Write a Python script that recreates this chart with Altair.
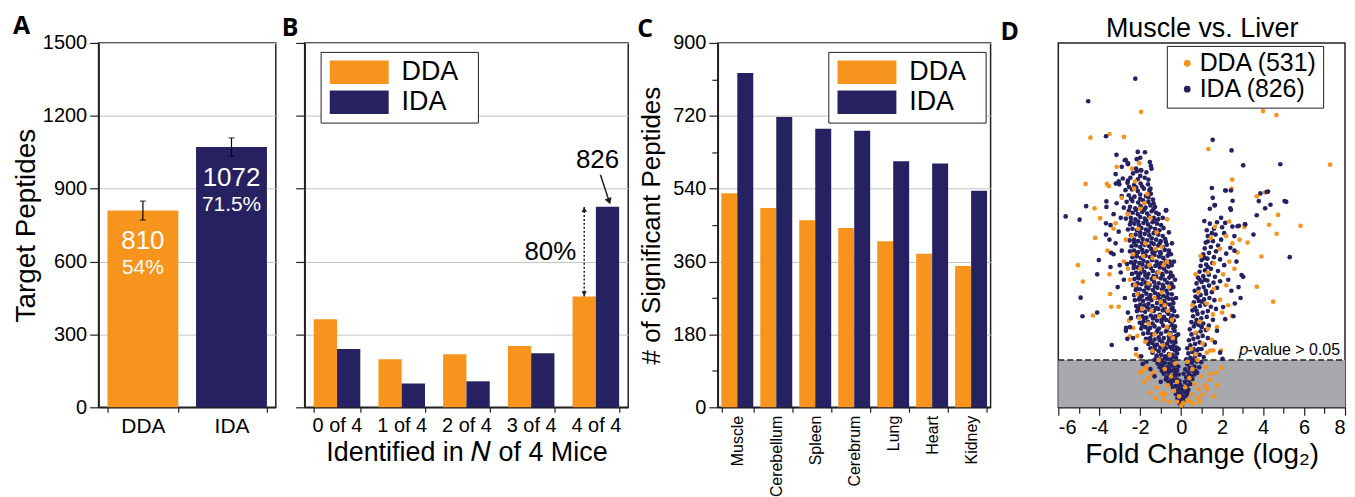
import altair as alt
import pandas as pd

ORANGE = "#F7941D"
NAVY = "#262262"
INK = "#231f20"
GRID = "#c4c4c4"
FONT = "Liberation Sans"
LETTER_FONT = "Open Sans"

methods = ["DDA", "IDA"]

# ---- Panel A ----
a_counts = [810, 1072]
a_err = [39, 37]
a_pct = ["54%", "71.5%"]

# ---- Panel B ----
b_cats = ["0 of 4", "1 of 4", "2 of 4", "3 of 4", "4 of 4"]
b_dda = [363, 198, 218, 252, 456]
b_ida = [240, 98, 107, 223, 826]
b_gain = "80%"

# ---- Panel C ----
tissues = ["Muscle", "Cerebellum", "Spleen", "Cerebrum", "Lung", "Heart", "Kidney"]
c_dda = [529, 492, 462, 443, 410, 379, 349]
c_ida = [826, 717, 688, 683, 608, 602, 535]

# ---- Panel D ----
d_sig = {"DDA": 531, "IDA": 826}
p_cut = 1.301
x_dom = [-6, 8]
y_dom = [0, 10]

ida_core = [
 (-0.02,0.04),(0.04,0.1),(-0.1,0.12),(-0.05,0.2),(0.06,0.22),(-0.18,0.25),(-0.12,0.32),(0.0,0.3),(-0.25,0.36),(-0.06,0.38),
 (-0.32,0.44),(-0.2,0.46),(-0.1,0.5),(0.02,0.48),(-0.4,0.55),(-0.28,0.58),(-0.16,0.6),(-0.05,0.62),(-0.5,0.64),
 (-0.62,0.7),(-0.45,0.72),(-0.33,0.74),(-0.2,0.76),(-0.08,0.72),(-0.72,0.82),(-0.55,0.85),(-0.4,0.86),(-0.27,0.88),(-0.12,0.9),(-0.85,0.92),(-0.64,0.95),
 (-0.95,1.0),(-0.78,1.02),(-0.5,1.0),(-0.35,1.04),(-0.2,1.02),(-1.05,1.1),(-0.9,1.12),(-0.68,1.1),(-0.45,1.14),(-0.28,1.16),(-0.14,1.12),(-1.15,1.2),(-0.8,1.22),(-0.58,1.2),(-0.38,1.25),
 (-1.3,1.3),(-1.05,1.32),(-0.92,1.28),(-0.7,1.34),(-0.5,1.32),(-0.25,1.36),(-1.2,1.42),(-0.98,1.44),(-0.78,1.4),(-0.6,1.46),(-0.42,1.44),(-0.2,1.48),(-1.4,1.5),(-1.1,1.54),(-0.85,1.55),(-0.3,1.56),
 (-1.5,1.62),(-1.28,1.6),(-1.02,1.64),(-0.75,1.62),(-0.55,1.66),(-0.38,1.68),(-0.22,1.64),(-1.6,1.74),(-1.4,1.76),(-1.18,1.72),(-0.92,1.78),(-0.68,1.75),(-0.46,1.8),(-0.28,1.78),
 (-1.72,1.88),(-1.52,1.9),(-1.3,1.86),(-1.1,1.92),(-0.85,1.9),(-0.6,1.94),(-0.4,1.92),(-0.25,1.96),(-1.85,2.02),(-1.62,2.04),(-1.42,2.0),(-1.2,2.06),(-0.98,2.02),(-0.75,2.08),(-0.52,2.04),(-0.32,2.1),
 (-1.95,2.16),(-1.74,2.2),(-1.52,2.18),(-1.3,2.22),(-1.08,2.16),(-0.88,2.24),(-0.65,2.2),(-0.45,2.26),(-0.3,2.22),(-2.02,2.32),(-1.84,2.36),(-1.62,2.34),(-1.4,2.3),(-1.18,2.38),(-0.96,2.34),(-0.74,2.4),(-0.55,2.36),(-0.36,2.38),
 (-2.1,2.48),(-1.9,2.5),(-1.7,2.46),(-1.48,2.52),(-1.26,2.5),(-1.05,2.54),(-0.84,2.48),(-0.62,2.56),(-0.42,2.52),(-2.16,2.64),(-1.95,2.66),(-1.76,2.62),(-1.55,2.68),(-1.34,2.64),(-1.12,2.7),(-0.9,2.66),(-0.7,2.62),(-0.5,2.68),(-0.34,2.64),
 (-2.2,2.78),(-2.0,2.82),(-1.8,2.8),(-1.6,2.84),(-1.4,2.78),(-1.18,2.86),(-0.96,2.8),(-0.76,2.84),(-0.56,2.82),(-0.38,2.86),(-2.26,2.94),(-2.06,2.96),(-1.86,2.92),(-1.66,2.98),(-1.45,2.94),(-1.24,3.0),(-1.02,2.96),(-0.82,2.92),(-0.6,2.98),(-0.42,2.96),
 (-2.3,3.08),(-2.1,3.1),(-1.9,3.06),(-1.7,3.12),(-1.5,3.08),(-1.28,3.14),(-1.08,3.1),(-0.88,3.06),(-0.66,3.12),(-0.46,3.1),(-2.22,3.22),(-2.02,3.24),(-1.82,3.2),(-1.6,3.26),(-1.38,3.22),(-1.16,3.28),(-0.94,3.24),(-0.72,3.2),(-0.52,3.26),(-0.38,3.3),
 (-2.35,3.36),(-2.14,3.4),(-1.94,3.38),(-1.74,3.42),(-1.54,3.36),(-1.32,3.44),(-1.1,3.4),(-0.9,3.36),(-0.68,3.42),(-0.48,3.4),(-2.28,3.52),(-2.08,3.54),(-1.88,3.5),(-1.66,3.56),(-1.44,3.52),(-1.22,3.58),(-1.0,3.54),(-0.8,3.5),(-0.58,3.56),(-0.42,3.6),
 (-2.4,3.66),(-2.2,3.7),(-2.0,3.68),(-1.8,3.72),(-1.6,3.66),(-1.38,3.74),(-1.16,3.7),(-0.94,3.66),(-0.72,3.72),(-0.52,3.7),(-2.32,3.82),(-2.12,3.84),(-1.92,3.8),(-1.7,3.86),(-1.48,3.82),(-1.26,3.88),(-1.04,3.84),(-0.84,3.8),(-0.62,3.86),(-0.46,3.9),
 (-2.45,3.98),(-2.24,4.0),(-2.04,3.96),(-1.84,4.02),(-1.64,3.98),(-1.42,4.04),(-1.2,4.0),(-0.98,3.96),(-0.76,4.02),(-0.56,4.0),(-2.38,4.12),(-2.16,4.14),(-1.96,4.1),(-1.74,4.16),(-1.52,4.12),(-1.3,4.18),(-1.08,4.14),(-0.88,4.1),(-0.66,4.16),(-0.5,4.2),
 (-2.5,4.28),(-2.3,4.3),(-2.1,4.26),(-1.9,4.32),(-1.68,4.28),(-1.46,4.34),(-1.24,4.3),(-1.02,4.26),(-0.8,4.32),(-0.6,4.3),(-2.42,4.42),(-2.2,4.44),(-2.0,4.4),(-1.78,4.46),(-1.56,4.42),(-1.34,4.48),(-1.12,4.44),(-0.9,4.4),(-0.7,4.46),
 (-2.52,4.58),(-2.3,4.6),(-2.1,4.56),(-1.88,4.62),(-1.66,4.58),(-1.44,4.64),(-1.22,4.6),(-1.0,4.56),(-0.78,4.62),(-2.44,4.72),(-2.22,4.74),(-2.0,4.7),(-1.78,4.76),(-1.56,4.72),(-1.34,4.78),(-1.12,4.74),(-0.9,4.7),
 (-2.6,4.88),(-2.38,4.9),(-2.16,4.86),(-1.94,4.92),(-1.72,4.88),(-1.5,4.94),(-1.28,4.9),(-1.06,4.86),(-0.86,4.92),(-2.5,5.02),(-2.28,5.04),(-2.06,5.0),(-1.84,5.06),(-1.62,5.02),(-1.4,5.08),(-1.18,5.04),(-0.98,5.0),
 (-2.7,5.18),(-2.46,5.2),(-2.24,5.16),(-2.0,5.22),(-1.78,5.18),(-1.56,5.24),(-1.34,5.2),(-1.12,5.16),(-2.6,5.32),(-2.36,5.34),(-2.12,5.3),(-1.9,5.36),(-1.66,5.32),(-1.44,5.38),(-1.22,5.34),
 (-2.8,5.48),(-2.5,5.5),(-2.24,5.46),(-1.98,5.52),(-1.74,5.48),(-1.5,5.54),(-1.28,5.5),(-2.66,5.64),(-2.38,5.66),(-2.1,5.62),(-1.86,5.68),(-1.6,5.64),(-1.38,5.7),
 (-2.9,5.8),(-2.56,5.82),(-2.28,5.78),(-2.0,5.84),(-1.72,5.8),(-1.48,5.86),(-2.72,5.96),(-2.4,5.98),(-2.12,5.94),(-1.82,6.0),(-1.55,5.96),
 (-3.02,6.12),(-2.62,6.16),(-2.3,6.1),(-1.98,6.14),(-1.62,6.12),(-2.85,6.28),(-2.48,6.3),(-2.12,6.26),(-1.78,6.3),(-2.6,6.22),
 (-2.0,4.8),(-1.6,4.84),(-1.2,4.82),(-2.3,4.52),(-1.9,4.5),(-1.45,4.52),(-1.05,4.5),(-0.75,4.54),(-2.2,4.2),(-1.85,4.22),(-1.4,4.24),(-1.0,4.22),(-0.6,4.24),
 (-2.3,3.9),(-1.9,3.92),(-1.55,3.9),(-1.15,3.92),(-0.75,3.9),(-2.1,3.6),(-1.75,3.62),(-1.35,3.6),(-0.9,3.62),(-0.5,3.62),(-2.2,3.3),(-1.7,3.3),(-1.28,3.32),
 (-0.85,3.3),(-0.45,3.34),(-2.0,3.02),(-1.55,3.02),(-1.13,3.04),(-0.7,3.02),(-2.1,2.72),(-1.65,2.74),(-1.22,2.72),(-0.8,2.74),(-0.42,2.74),(-1.8,2.44),
 (-1.38,2.44),(-0.95,2.42),(-0.5,2.44),(-1.9,2.26),(-1.6,2.12),(-1.15,2.12),(-0.7,2.12),(-0.38,2.16),(-1.5,1.82),(-1.05,1.84),(-0.6,1.84),(-0.3,1.86),
 (-1.3,1.68),(-0.85,1.68),(-0.45,1.6),(-1.2,1.36),(-0.8,1.36),(-0.35,1.38),(-0.95,1.18),(-0.6,1.06),(-0.3,0.96),(-0.75,0.76),(-0.5,0.8),(-2.45,5.1),
 (-2.1,5.1),(-1.7,5.12),(-1.3,5.12),(-2.55,5.4),(-2.2,5.42),(-1.8,5.42),(-1.35,5.44),(-2.45,5.72),(-2.0,5.72),(-1.6,5.76),(-2.55,6.05),(-2.2,6.04),
 (-1.9,6.06),(-2.0,6.35),(-2.35,6.42),(-1.7,6.45),
 (0.05,0.08),(0.12,0.18),(0.2,0.26),(0.08,0.3),(0.28,0.36),(0.15,0.42),(0.35,0.48),(0.22,0.5),
 (0.1,0.56),(0.3,0.6),(0.45,0.64),(0.18,0.7),(0.38,0.74),(0.55,0.78),(0.25,0.82),(0.48,0.86),(0.65,0.9),(0.12,0.92),(0.35,0.96),(0.58,1.0),(0.78,0.95),
 (0.2,1.04),(0.42,1.08),(0.65,1.12),(0.88,1.1),(0.3,1.18),(0.52,1.22),(0.75,1.26),(0.98,1.24),(0.25,1.32),(0.45,1.36),(0.68,1.4),(0.9,1.44),(1.1,1.38),(0.35,1.48),
 (0.55,1.52),(0.78,1.56),(1.0,1.6),(0.3,1.62),(0.45,1.7),(0.68,1.74),(0.9,1.78),(1.15,1.72),(0.38,1.84),(0.6,1.88),(0.82,1.92),(1.05,1.96),(1.3,1.9),(0.5,2.0),
 (0.72,2.04),(0.95,2.08),(1.2,2.12),(0.42,2.14),(0.62,2.22),(0.85,2.26),(1.08,2.3),(1.35,2.24),(0.5,2.34),(0.75,2.4),(0.98,2.44),(1.25,2.48),(1.55,2.4),(0.58,2.5),
 (0.8,2.56),(1.05,2.6),(1.3,2.64),(0.55,2.66),(0.68,2.74),(0.92,2.78),(1.18,2.82),(1.45,2.76),(1.7,2.7),(0.62,2.88),(0.86,2.92),(1.12,2.96),(1.38,3.0),(1.62,2.94),
 (0.7,3.04),(0.95,3.08),(1.22,3.12),(1.5,3.16),(0.66,3.2),(0.85,3.26),(1.1,3.3),(1.36,3.34),(1.75,3.28),(0.75,3.4),(1.0,3.44),(1.28,3.48),(1.58,3.42),(1.9,3.46),
 (0.82,3.56),(1.08,3.6),(1.35,3.64),(1.65,3.58),(0.9,3.72),(1.16,3.76),(1.45,3.8),(1.8,3.74),(0.95,3.88),(1.22,3.92),(1.52,3.96),(2.1,3.9),
 (1.0,4.04),(1.28,4.08),(1.6,4.12),(1.9,4.06),(1.08,4.2),(1.36,4.24),(1.7,4.28),(2.2,4.22),(1.15,4.36),(1.45,4.4),(1.8,4.44),(2.4,4.38),
 (1.2,4.52),(1.55,4.56),(1.95,4.6),(1.3,4.7),(1.68,4.74),(2.1,4.78),(2.6,4.7),(1.25,4.86),(1.6,4.9),(2.0,4.94),(2.5,4.96),(1.4,5.04),(1.75,5.08),(2.15,5.06),(2.82,4.98),(3.11,5.02),(1.13,5.11),
 (0.3,0.4),(0.4,0.9),(0.7,1.0),(0.55,1.3),(0.85,1.6),(0.6,1.6),(0.7,2.3),(1.0,2.2),(0.75,2.65),(1.0,2.9),(0.8,3.0),(1.2,3.2),(0.9,3.5),(1.15,3.5),(1.3,3.85),
 (1.15,4.1),(1.3,4.55),(1.5,4.78),
]

ida_outer = [
 (-3.2,4.5),(-3.05,4.82),(-2.95,5.2),(-3.15,5.6),(-3.3,5.3),(-2.9,4.3),(-3.0,3.9),(-2.8,3.5),(-2.75,3.0),(-2.6,2.6),(-2.5,2.2),(-2.35,1.9),(-2.2,1.6),(-1.95,1.4),(-1.7,1.25),(-1.5,1.05),(-1.3,0.85),(-1.0,0.7),
 (-2.7,2.1),(-2.45,2.45),(-3.1,3.3),(-2.95,3.7),(-3.3,4.2),(-3.5,4.6),(-3.45,5.0),(-3.2,6.4),(-2.9,6.6),(-2.75,6.78),(-2.6,6.7),(-2.2,6.55),(-1.95,6.5),(-1.5,6.0),(-1.35,5.6),(-1.1,5.3),(-0.9,5.2),(-0.75,5.4),
 (-0.6,4.8),(-0.45,4.5),(-0.35,4.0),(-0.3,3.5),(-0.25,3.0),(-0.2,2.5),(-0.15,2.0),(-0.12,1.6),(-1.6,6.25),(-1.45,6.55),(-2.0,6.85),
 (-2.24,9.02),(-4.54,8.40),(-3.67,7.44),(-3.16,6.93),(-2.12,7.01),(-1.77,7.00),(-2.71,6.79),(-2.60,6.67),(-2.17,6.81),(-1.96,6.51),(-1.53,6.73),(-1.48,6.63),
 (-4.64,5.52),(-3.65,5.65),(-3.65,5.50),(-5.64,5.24),(-4.96,5.15),(-3.67,5.05),(-3.67,4.74),(-0.73,5.41),(-4.91,3.01),(-4.82,2.50),(-4.10,2.60),(-4.10,3.65),
 (-4.02,4.04),(-3.42,4.24),(-3.45,3.85),(-3.39,1.71),(-2.69,2.18),(-2.63,1.88),(-2.64,3.93),(-1.88,1.19),(-3.19,6.14),(-3.05,6.2),(-2.16,6.48),
 (1.50,6.02),(2.18,5.95),(4.18,5.91),(1.54,5.75),(1.65,5.55),(2.40,5.46),(3.69,5.27),(5.05,5.66),(3.53,4.74),(3.13,5.02),(2.75,4.97),(1.54,7.34),(2.46,7.05),
 (3.03,6.64),(4.84,6.67),(2.15,5.95),(2.43,5.95),(2.51,5.67),(1.63,5.54),(2.43,5.42),(3.87,5.87),(4.24,5.92),(3.79,5.66),(4.36,5.56),(4.10,5.46),(5.13,5.64),
 (5.30,4.12),(2.95,3.63),(3.03,3.58),(2.62,2.85),(2.15,2.42),(2.02,1.33),(1.65,1.78),(2.45,3.2),(2.3,3.5),(2.6,4.3),(2.7,4.0),(1.95,5.2),(1.4,5.45),
 (2.8,3.3),(2.55,2.5),(2.9,3.0),(1.9,1.5),(1.75,2.1),(2.05,2.75),
]

dda_pts = [
 (-1.96,8.11),(-4.43,7.40),(-3.50,7.50),(-2.79,7.42),(-3.15,6.60),(-2.05,6.70),(-4.67,6.13),(-3.53,6.07),(-4.23,5.46),(-3.96,5.19),(-4.20,4.65),(-0.69,5.16),
 (-5.04,3.90),(-4.80,3.45),(-4.31,2.52),(-3.47,3.11),(-3.42,2.76),(-3.05,2.76),(-3.50,3.65),(-2.34,2.18),(-2.5,1.95),(-2.55,2.38),(-2.14,1.96),(-0.94,0.36),
 (-0.77,0.35),(-3.63,6.13),(-2.4,6.55),(-2.25,6.2),(-3.3,4.9),(-3.6,4.3),(-2.9,5.75),(-3.2,5.05),
 (-2.3,6.0),(-1.8,5.6),(-2.6,5.3),(-1.5,5.2),(-2.1,4.9),(-1.2,4.8),(-2.7,4.6),(-1.75,4.5),(-0.95,4.4),(-2.35,4.2),(-1.4,4.1),(-0.7,4.0),(-2.0,3.8),(-1.1,3.7),
 (-2.5,3.5),(-1.6,3.4),(-0.6,3.3),(-2.15,3.1),(-1.3,3.0),(-0.8,2.8),(-1.9,2.7),(-1.05,2.5),(-0.45,2.4),(-1.6,2.3),(-0.7,2.2),(-1.3,2.0),(-0.4,1.9),(-1.75,1.8),
 (-0.9,1.7),(-1.4,1.55),(-0.55,1.45),(-1.1,1.3),(-0.3,1.2),(-0.8,1.05),(-1.35,0.95),(-0.5,0.85),(-0.2,0.7),(-0.65,0.6),(-0.35,0.45),(-0.1,0.3),(-0.2,0.15),(0.0,0.05),
 (-1.6,0.8),(-1.2,0.55),(-0.9,0.4),(-1.7,1.1),(-2.2,1.45),(-1.9,1.0),(-2.4,4.7),(-1.85,4.15),(-1.3,3.55),(-0.95,3.15),(-2.05,2.45),(-1.45,2.65),(-0.55,2.0),
 (-2.8,4.0),(-2.6,3.8),(-1.65,5.85),(-2.0,5.45),(-1.25,4.35),(-0.85,3.9),(-2.25,3.35),(-1.55,3.9),(-1.0,2.9),(-0.65,2.65),(-2.05,1.39),(-1.72,1.06),(-1.4,0.9),
 (4.00,8.13),(4.65,8.02),(1.33,7.09),(7.27,6.66),(2.49,6.25),(2.46,6.0),(3.69,5.79),(4.73,5.28),(4.29,5.01),(4.66,4.76),(3.24,4.52),(3.69,3.31),(4.49,2.90),
 (5.83,4.98),(3.92,4.14),(4.1,5.9),(3.09,4.95),(1.94,1.56),(1.99,1.08),(1.41,0.92),(1.41,0.76),(1.57,1.56),(1.42,1.56),(2.48,2.51),
 (0.1,0.12),(0.3,0.2),(0.5,0.35),(0.2,0.55),(0.65,0.65),(0.85,0.5),(0.4,0.8),(1.0,0.85),(0.55,1.05),(1.2,1.1),(0.3,1.25),(0.8,1.3),(1.25,1.5),(0.5,1.6),
 (1.05,1.75),(1.5,1.85),(0.7,2.05),(1.3,2.15),(1.75,2.2),(0.9,2.35),(1.55,2.55),(2.0,2.6),(0.55,2.8),(1.25,2.85),(1.9,2.95),(0.85,3.15),(1.6,3.25),(2.2,3.35),
 (0.7,3.65),(1.3,3.7),(2.05,3.65),(1.6,3.95),(2.35,4.0),(0.95,4.15),(1.9,4.35),(2.5,4.5),(1.45,4.65),(2.2,4.7),(2.85,4.6),(1.65,4.95),(2.35,5.1),(0.85,0.25),
 (0.45,0.15),(1.15,0.6),(0.7,1.45),(2.3,2.8),(2.6,3.8),(2.75,4.25),
 (-1.5,0.4),(-1.25,0.25),(-0.6,0.15),(0.6,0.1),(1.05,0.35),(1.3,0.5),(1.6,0.3),(-1.8,0.7),(1.7,0.95),(1.75,0.6),(-2.0,0.95),(-0.85,0.2),(0.9,0.15),
]

H = 366

# ---------------- helpers ----------------
def major(step):
    return f"datum.value % {step} == 0"

def y_axis(values, step, title=None, labels=True, pad=2, tfs=26):
    return alt.Axis(
        values=values, format="d",
        labelExpr=f"{major(step)} ? datum.label : ''",
        tickSize={"condition": {"test": major(step), "value": 9}, "value": 6},
        grid=True,
        gridOpacity={"condition": {"test": major(step), "value": 1}, "value": 0},
        labels=labels, title=title, titlePadding=pad, labelPadding=3, titleFontSize=tfs,
    )

def letter(t, dx, dy=0):
    return alt.Title(t, anchor="start", frame="group", dx=dx, dy=dy, offset=0,
                     font=LETTER_FONT, fontSize=25, fontWeight="bold", color="black")

color_scale = alt.Scale(domain=methods, range=[ORANGE, NAVY])

def bar_legend(x, y):
    # filled swatch plus an invisible move-to point that widens the legend box
    return alt.Legend(orient="none", legendX=x, legendY=y, title=None, direction="vertical",
                      symbolType="M-2.5,-1H2.5V1H-2.5ZM9.4,0", symbolSize=560, symbolStrokeWidth=0,
                      symbolOffset=18.3, labelOffset=29, labelFontSize=27, labelFont=FONT,
                      labelColor="black", rowPadding=2, padding=7, strokeColor=INK,
                      fillColor="white")

def spacer(w):
    return alt.Chart(pd.DataFrame({"v": [0]})).mark_point(opacity=0).encode(
        x=alt.X("v:Q", axis=None), y=alt.Y("v:Q", axis=None)
    ).properties(width=w, height=H, view=alt.ViewBackground(stroke=None))

# ---------------- Panel A ----------------
dfA = pd.DataFrame({
    "method": methods,
    "count": a_counts,
    "lo": [c - e for c, e in zip(a_counts, a_err)],
    "hi": [c + e for c, e in zip(a_counts, a_err)],
    "num": [str(c) for c in a_counts],
    "pct": a_pct,
})
xA = alt.X("method:N", sort=methods, scale=alt.Scale(paddingInner=0.2, paddingOuter=0.1),
           axis=alt.Axis(title=None, labelAngle=0, tickBand="extent", labelFontSize=21, labelPadding=3))
yA_scale = alt.Scale(domain=[0, 1500], nice=False)
barsA = alt.Chart(dfA).mark_bar().encode(
    x=xA,
    y=alt.Y("count:Q", scale=yA_scale,
            axis=y_axis(list(range(0, 1501, 150)), 300, title="Target Peptides", pad=2, tfs=28)),
    color=alt.Color("method:N", scale=color_scale, legend=None),
)
errA = alt.Chart(dfA).mark_rule(color="black", strokeWidth=1.2).encode(
    x=alt.X("method:N", sort=methods), y="lo:Q", y2="hi:Q")
capA = alt.Chart(dfA).mark_tick(color="black", thickness=1.2, size=6).encode(
    x=alt.X("method:N", sort=methods), y="lo:Q")
capA2 = alt.Chart(dfA).mark_tick(color="black", thickness=1.2, size=6).encode(
    x=alt.X("method:N", sort=methods), y="hi:Q")
numA = alt.Chart(dfA).mark_text(color="white", fontSize=26, font=FONT, baseline="middle", dy=31).encode(
    x=alt.X("method:N", sort=methods), y="count:Q", text="num:N")
pctA = alt.Chart(dfA).mark_text(color="white", fontSize=21, font=FONT, baseline="middle", dy=58).encode(
    x=alt.X("method:N", sort=methods), y="count:Q", text="pct:N")
panelA = alt.layer(barsA, errA, capA, capA2, numA, pctA).properties(
    width=178, height=H, title=letter("A", -86, 6))

# ---------------- Panel B ----------------
rowsB = []
for i, c in enumerate(b_cats):
    rowsB.append({"cat": c, "method": "DDA", "count": b_dda[i]})
    rowsB.append({"cat": c, "method": "IDA", "count": b_ida[i]})
dfB = pd.DataFrame(rowsB)
xB = alt.X("cat:N", sort=b_cats, scale=alt.Scale(paddingInner=0.28, paddingOuter=0.14),
           axis=alt.Axis(title="Identified in \U0001D441 of 4 Mice", labelAngle=0, tickBand="extent",
                         labelFontSize=20, labelPadding=3, titlePadding=4, titleFontSize=27))
yB = alt.Y("count:Q", scale=alt.Scale(domain=[0, 1500], nice=False),
           axis=y_axis(list(range(0, 1501, 150)), 300, title=None, labels=False))
barsB = alt.Chart(dfB).mark_bar().encode(
    x=xB, y=yB,
    xOffset=alt.XOffset("method:N", sort=methods),
    color=alt.Color("method:N", scale=color_scale, legend=bar_legend(16, 9)),
)
top_cat = b_cats[-1]
dfB_ann = pd.DataFrame({"cat": [top_cat], "lo": [b_dda[-1]], "hi": [b_ida[-1]],
                        "mid": [(b_dda[-1] + b_ida[-1]) / 2],
                        "num": [str(b_ida[-1])], "pct": [b_gain],
                        "dda": ["DDA"], "ida": ["IDA"]})
xBa = alt.X("cat:N", sort=b_cats)
xoD = alt.XOffset("dda:N", scale=alt.Scale(domain=methods))
xoI = alt.XOffset("ida:N", scale=alt.Scale(domain=methods))
dotB = alt.Chart(dfB_ann).mark_rule(color=INK, strokeWidth=1.5, strokeDash=[2, 2]).encode(
    x=xBa, xOffset=xoD, y="lo:Q", y2="hi:Q")
upB = alt.Chart(dfB_ann).mark_point(shape="triangle-up", filled=True, color=INK, size=30, opacity=1, yOffset=3).encode(
    x=xBa, xOffset=xoD, y="hi:Q")
dnB = alt.Chart(dfB_ann).mark_point(shape="triangle-down", filled=True, color=INK, size=30, opacity=1, yOffset=-3).encode(
    x=xBa, xOffset=xoD, y="lo:Q")
pctB = alt.Chart(dfB_ann).mark_text(fontSize=26, font=FONT, color="black", align="right", baseline="middle", dx=-8).encode(
    x=xBa, xOffset=xoD, y="mid:Q", text="pct:N")
numB = alt.Chart(dfB_ann).mark_text(fontSize=26, font=FONT, color="black", align="center", baseline="middle", dx=-10, dy=-47).encode(
    x=xBa, xOffset=xoI, y="hi:Q", text="num:N")
arrow_line = pd.DataFrame({"ix": [4.57, 4.705], "v": [957, 848]})
arrow_head = pd.DataFrame({"ix": [4.70], "v": [852]})
ix_scale = alt.Scale(domain=[0, len(b_cats)], nice=False, zero=False)
arrB = alt.Chart(arrow_line).mark_line(color=INK, strokeWidth=1.5).encode(
    x=alt.X("ix:Q", scale=ix_scale, axis=None), y=alt.Y("v:Q"))
headB = alt.Chart(arrow_head).mark_point(shape="triangle", angle=160, filled=True, color=INK, size=55, opacity=1).encode(
    x=alt.X("ix:Q", scale=ix_scale, axis=None), y=alt.Y("v:Q"))
bandB = alt.layer(barsB, dotB, upB, dnB, pctB, numB)
quantB = alt.layer(arrB, headB)
panelB = alt.layer(bandB, quantB).resolve_scale(x="independent").properties(
    width=325, height=H, title=letter("B", -23, -1))

# ---------------- Panel C ----------------
rowsC = []
for i, t in enumerate(tissues):
    rowsC.append({"tissue": t, "method": "DDA", "count": c_dda[i]})
    rowsC.append({"tissue": t, "method": "IDA", "count": c_ida[i]})
dfC = pd.DataFrame(rowsC)
panelC = alt.Chart(dfC).mark_bar().encode(
    x=alt.X("tissue:N", sort=tissues, scale=alt.Scale(paddingInner=0.18, paddingOuter=0.09),
            axis=alt.Axis(title=None, labelAngle=270, tickBand="extent", labelFontSize=16, labelPadding=3)),
    xOffset=alt.XOffset("method:N", sort=methods),
    y=alt.Y("count:Q", scale=alt.Scale(domain=[0, 900], nice=False),
            axis=y_axis(list(range(0, 901, 90)), 180, title="# of Significant Peptides", pad=8, tfs=26)),
    color=alt.Color("method:N", scale=color_scale, legend=bar_legend(111, 9)),
).properties(width=274, height=H, title=letter("C", -81, 9))

# ---------------- Panel D ----------------
lab = {m: f"{m} ({d_sig[m]})" for m in methods}
pts = ([{"fc": x, "p": y, "s": lab["IDA"]} for x, y in ida_core]
       + [{"fc": x, "p": y, "s": lab["DDA"]} for x, y in dda_pts]
       + [{"fc": x, "p": y, "s": lab["IDA"]} for x, y in ida_outer])
dfD = pd.DataFrame(pts)
dfD["order"] = range(len(dfD))
xD_scale = alt.Scale(domain=x_dom, nice=False)
yD_scale = alt.Scale(domain=y_dom, nice=False)
shade = pd.DataFrame({"x0": [x_dom[0]], "x1": [x_dom[1]], "y0": [0], "y1": [p_cut]})
shadeD = alt.Chart(shade).mark_rect(color="#A7A9AC").encode(
    x=alt.X("x0:Q", scale=xD_scale, axis=None), x2="x1:Q",
    y=alt.Y("y0:Q", scale=yD_scale, axis=None), y2="y1:Q")
lineD = alt.Chart(shade).mark_rule(color=INK, strokeWidth=1.5, strokeDash=[6, 3]).encode(
    x=alt.X("x0:Q", scale=xD_scale, axis=None), x2="x1:Q",
    y=alt.Y("y1:Q", scale=yD_scale, axis=None))
ptsD = alt.Chart(dfD).mark_circle(size=22, opacity=1).encode(
    x=alt.X("fc:Q", scale=xD_scale,
            axis=alt.Axis(values=list(range(-6, 9)), labelExpr="datum.value % 2 == 0 ? toString(datum.value) : ''",
                          tickSize={"condition": {"test": major(2), "value": 8}, "value": 6},
                          grid=False, title="Fold Change (log\u2082)", labelFontSize=20, labelPadding=2,
                          titlePadding=3, titleFontSize=28)),
    y=alt.Y("p:Q", scale=yD_scale,
            axis=alt.Axis(values=list(range(0, 11)), labelExpr="datum.value % 2 == 0 ? toString(datum.value) : ''",
                          tickSize={"condition": {"test": major(2), "value": 8}, "value": 6},
                          grid=False, title="-log(\U0001D45D-value)", labelFontSize=20, labelPadding=2,
                          titlePadding=0, titleFontSize=27)),
    color=alt.Color("s:N", scale=alt.Scale(domain=[lab["DDA"], lab["IDA"]], range=[ORANGE, NAVY]),
                    legend=alt.Legend(orient="none", legendX=109, legendY=3, title=None,
                                      symbolType="circle", symbolSize=46, labelFontSize=25, labelFont=FONT,
                                      labelColor="black", symbolOffset=3, labelOffset=0, rowPadding=0, padding=5,
                                      strokeColor=INK, fillColor="white")),
    order="order:Q",
)
note = pd.DataFrame({"x": [x_dom[1]], "y": [p_cut], "t": ["\U0001D45D-value > 0.05"]})
noteD = alt.Chart(note).mark_text(fontSize=16, font=FONT, color="black", align="right", baseline="bottom", dx=-5, dy=-2).encode(
    x=alt.X("x:Q", scale=xD_scale,
            axis=alt.Axis(orient="top", title="Muscle vs. Liver", labels=False, ticks=False, domain=False,
                          grid=False, titleFontSize=27, titlePadding=0)),
    y=alt.Y("y:Q", scale=yD_scale, axis=None), text="t:N")
panelD = alt.layer(shadeD, lineD, ptsD, noteD).resolve_axis(x="independent").properties(
    width=288, height=H, title=letter("D", -58, 30))

# ---------------- assemble ----------------
chart = alt.hconcat(
    panelA, spacer(29), panelB, spacer(90), panelC, spacer(68), panelD,
    spacing=0, bounds="flush"
).resolve_scale(color="independent", xOffset="independent").resolve_legend(color="independent").properties(
    padding={"left": 3, "top": 4, "right": 0, "bottom": 0}
).configure(font=FONT).configure_view(
    stroke=INK, strokeWidth=1.5
).configure_axis(
    labelFont=FONT, titleFont=FONT, labelColor="black", titleColor="black",
    titleFontWeight="normal", titleFontSize=25, labelFontSize=20,
    tickColor=INK, tickWidth=1.2, domainColor=INK, domainWidth=1.5,
    gridColor=GRID, gridWidth=1,
).configure_title(font=LETTER_FONT)

chart.save("out.html", embed_options={"renderer": "svg", "actions": False})
